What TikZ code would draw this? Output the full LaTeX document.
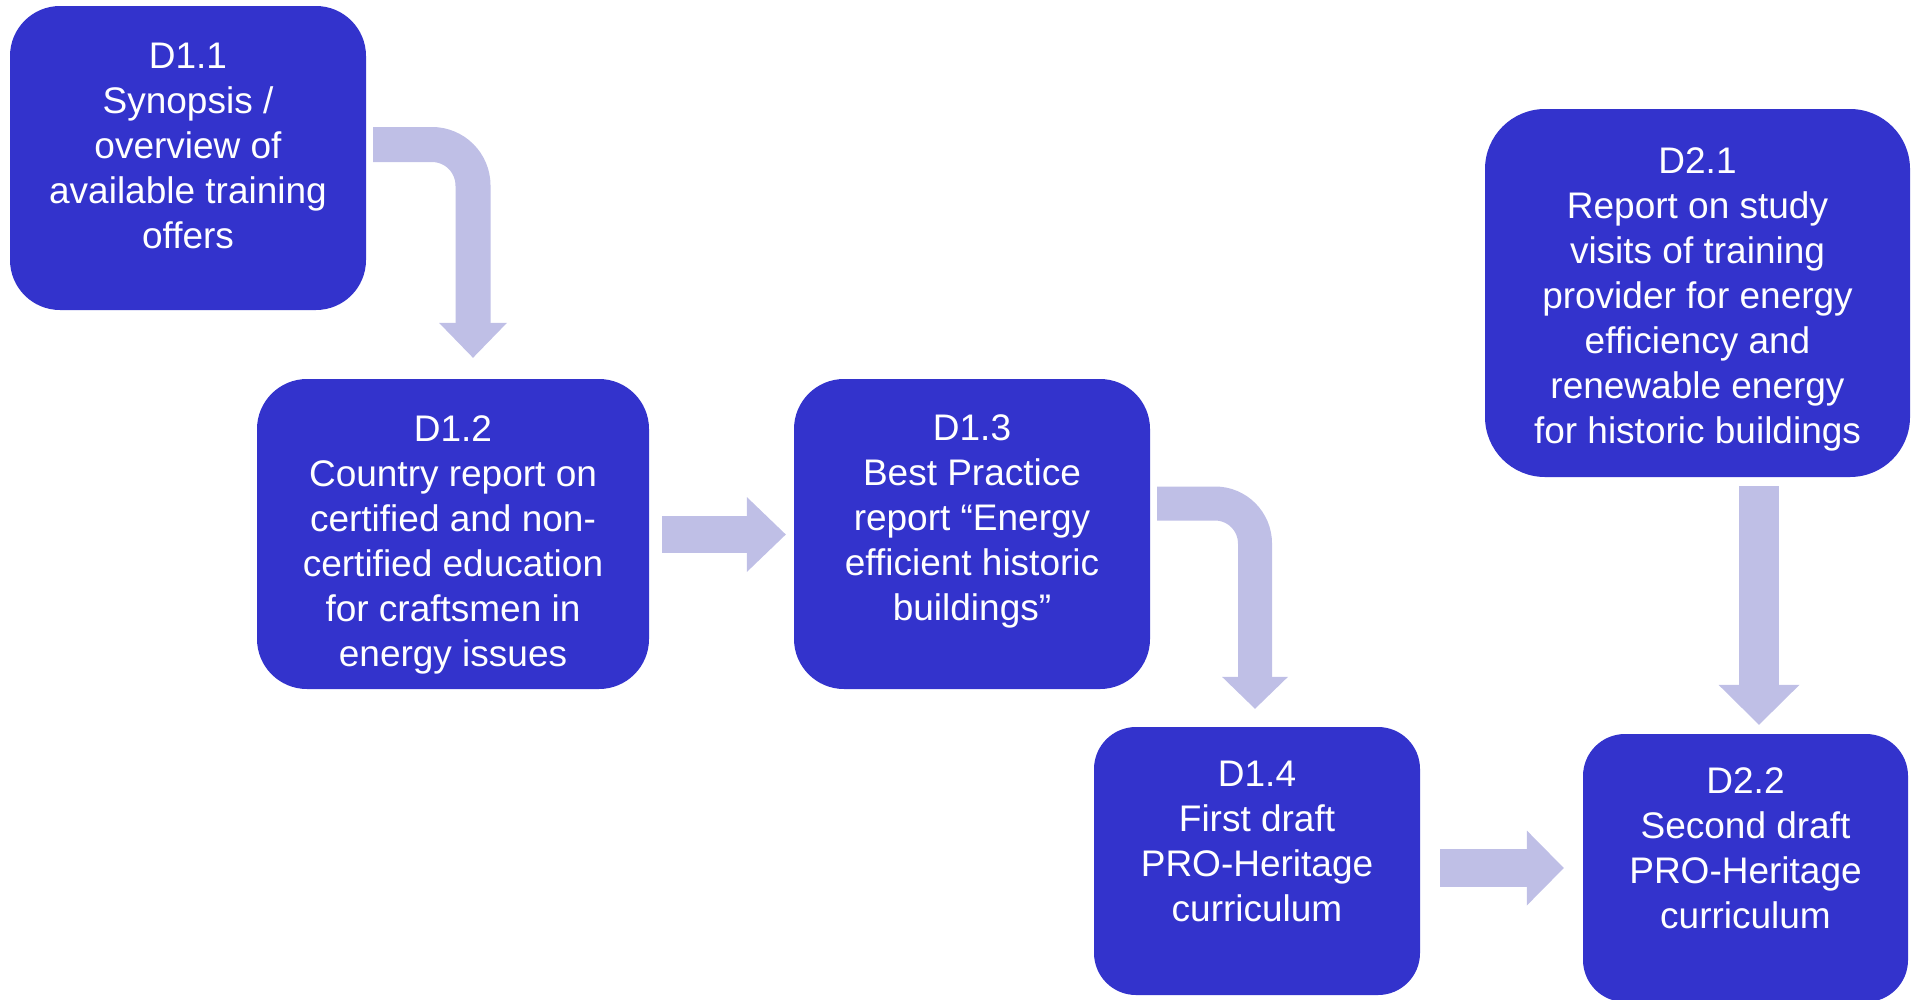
\documentclass[tikz,border=0pt]{standalone}
\usepackage{fontspec}
\setmainfont{Liberation Sans}
\usepackage{xcolor}
\usepackage{tikz}
\usetikzlibrary{arrows.meta, positioning, calc}

\definecolor{delblue}{HTML}{3333CC}
\definecolor{flowlav}{HTML}{BFBFE6}

\tikzset{
  deliv/.style={fill=delblue, draw=none, rounded corners=#1},
  deliv/.default=50pt,
  deltext/.style={text=white, align=center, inner sep=0pt,
    font=\fontsize{37pt}{45.1pt}\selectfont},
  flow/.style n args={3}{draw=flowlav, line width=#1,
    -{Triangle[width=#2, length=#3, line width=0pt]}},
}

\begin{document}
\begin{tikzpicture}[x=1pt, y=-1pt]
    \useasboundingbox (0,0) rectangle (1913,999);
    \clip (0,0) rectangle (1913,999);

    % Deliverables of WP1
    \node[deliv, minimum width=356pt, minimum height=304pt] (d11) at (188,158) {};
    \node[deliv, minimum width=392pt, minimum height=310pt] (d12) at (453,534) {};
    \node[deliv, minimum width=356pt, minimum height=310pt] (d13) at (972,534) {};
    \node[deliv=42pt, minimum width=326pt, minimum height=268pt] (d14) at (1257,861) {};

    % Deliverables of WP2
    \node[deliv=60pt, minimum width=425pt, minimum height=368pt] (d21) at (1697.5,293) {};
    \node[deliv=42pt, minimum width=325pt, minimum height=268pt] (d22) at (1745.5,868) {};

    \node[deltext] (t11) at (188,146) {D1.1\\Synopsis /\\overview of\\available training\\offers};
    \node[deltext] (t12) at (453,544.7) {D1.2\\Country report on\\certified and non-\\certified education\\for craftsmen in\\energy issues};
    \node[deltext] (t13) at (972,521.4) {D1.3\\Best Practice\\report “Energy\\efficient historic\\buildings”};
    \node[deltext] (t14) at (1257,841.2) {D1.4\\First draft\\PRO-Heritage\\curriculum};
    \node[deltext] (t21) at (1697.5,299.5) {D2.1\\Report on study\\visits of training\\provider for energy\\efficiency and\\renewable energy\\for historic buildings};
    \node[deltext] (t22) at (1745.5,848.2) {D2.2\\Second draft\\PRO-Heritage\\curriculum};

    % Flow
    \draw[flow={35pt}{68pt}{35pt}, rounded corners=41pt]
      ([shift={(7,-13.5)}]d11.east) -| ([shift={(20,-21)}]d12.north);
    \draw[flow={37pt}{75pt}{39pt}]
      ([shift={(13,0.5)}]d12.east) -- ([shift={(-8,0.5)}]d13.west);
    \draw[flow={34pt}{66pt}{32pt}, rounded corners=40pt]
      ([shift={(7,-30.5)}]d13.east) -| ([shift={(-2,-18)}]d14.north);
    \draw[flow={38pt}{75pt}{37pt}]
      ([shift={(20,7)}]d14.east) -- ([shift={(-19,0)}]d22.west);
    \draw[flow={40pt}{81pt}{40pt}]
      ([shift={(61.5,9)}]d21.south) -- ([shift={(13.5,-9)}]d22.north);
\end{tikzpicture}
\end{document}
